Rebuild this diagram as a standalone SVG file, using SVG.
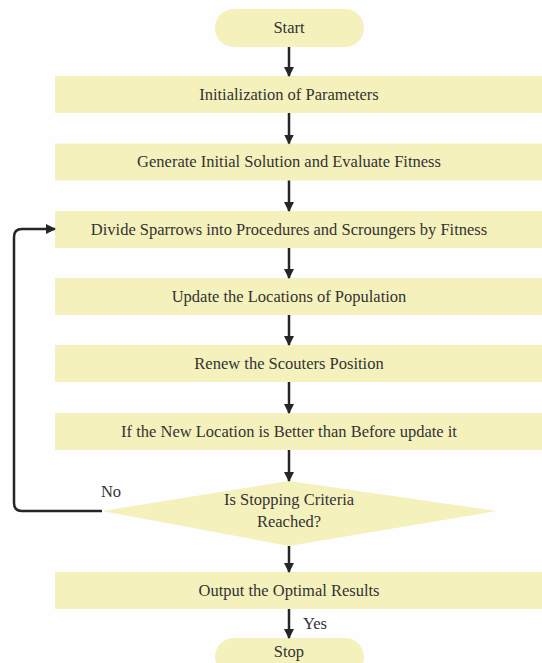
<svg xmlns="http://www.w3.org/2000/svg" width="542" height="663" viewBox="0 0 542 663">
<defs>
<style>
.box{fill:#f5f1bc;}
text{font-family:'Liberation Serif','DejaVu Serif',serif;font-size:16.5px;fill:#333;text-anchor:middle;}
.c{stroke:#262626;stroke-width:2.5;fill:none;}
</style>
<marker id="ah" markerWidth="10" markerHeight="10" refX="9" refY="5" orient="auto" markerUnits="userSpaceOnUse">
<path d="M0,0 L10,5 L0,10 Z" fill="#262626"/>
</marker>
</defs>
<rect width="542" height="663" fill="#fefefe"/>
<g id="start"><rect class="box" x="215" y="9" width="149" height="38" rx="19"/><text x="289" y="33">Start</text></g>
<g id="init"><rect class="box" x="55" y="76" width="487" height="37"/><text x="289" y="100">Initialization of Parameters</text></g>
<g id="gen"><rect class="box" x="55" y="143.5" width="487" height="37"/><text x="289" y="167">Generate Initial Solution and Evaluate Fitness</text></g>
<g id="divide"><rect class="box" x="55" y="211" width="487" height="37"/><text x="289" y="235">Divide Sparrows into Procedures and Scroungers by Fitness</text></g>
<g id="update"><rect class="box" x="55" y="278" width="487" height="37"/><text x="289" y="302">Update the Locations of Population</text></g>
<g id="renew"><rect class="box" x="55" y="345" width="487" height="37"/><text x="289" y="369">Renew the Scouters Position</text></g>
<g id="ifnew"><rect class="box" x="55" y="413" width="487" height="37"/><text x="289" y="437">If the New Location is Better than Before update it</text></g>
<g id="decision"><polygon class="box" points="289,481 497,511 289,546 102,511"/><text x="289" y="505">Is Stopping Criteria</text><text x="289" y="527">Reached?</text></g>
<g id="output"><rect class="box" x="55" y="572" width="487" height="37"/><text x="289" y="596">Output the Optimal Results</text></g>
<g id="stop"><rect class="box" x="215" y="638" width="149" height="38" rx="19"/><text x="289" y="657">Stop</text></g>
<g id="connectors">
<line class="c" x1="289" y1="47" x2="289" y2="76" marker-end="url(#ah)"/>
<line class="c" x1="289" y1="113" x2="289" y2="143.5" marker-end="url(#ah)"/>
<line class="c" x1="289" y1="180.5" x2="289" y2="211" marker-end="url(#ah)"/>
<line class="c" x1="289" y1="248" x2="289" y2="278" marker-end="url(#ah)"/>
<line class="c" x1="289" y1="315" x2="289" y2="345" marker-end="url(#ah)"/>
<line class="c" x1="289" y1="382" x2="289" y2="413" marker-end="url(#ah)"/>
<line class="c" x1="289" y1="450" x2="289" y2="481" marker-end="url(#ah)"/>
<line class="c" x1="289" y1="546" x2="289" y2="572" marker-end="url(#ah)"/>
<line class="c" x1="289" y1="609" x2="289" y2="638" marker-end="url(#ah)"/>
<path class="c" d="M102,511 H22 Q14,511 14,503 V237 Q14,229 22,229 H55" marker-end="url(#ah)"/>
<text x="111" y="497">No</text>
<text x="315" y="629">Yes</text>
</g>
</svg>
